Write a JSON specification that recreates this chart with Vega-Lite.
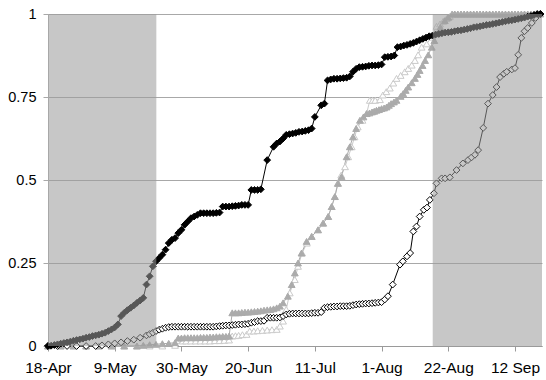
{
  "$schema": "https://vega.github.io/schema/vega-lite/v6.json",
  "width": 494,
  "height": 332,
  "autosize": {"type": "none"},
  "padding": {"left": 48, "top": 14, "right": 4, "bottom": 34},
  "config": {"view": {"stroke": null}, "font": "Liberation Sans"},
  "datasets": {
    "bands": [
      {"start": 0, "end": 34.1},
      {"start": 121.1, "end": 155.5}
    ],
    "curves": [
      {"series":"C","day":0,"value":0},{"series":"C","day":4,"value":0},{"series":"C","day":8,"value":0},{"series":"C","day":12,"value":0},{"series":"C","day":16,"value":0},{"series":"C","day":20,"value":0},{"series":"C","day":24,"value":0},{"series":"C","day":28,"value":0},{"series":"C","day":32,"value":0},{"series":"C","day":36,"value":0},{"series":"C","day":40,"value":0.002},{"series":"C","day":42.4,"value":0.015},{"series":"C","day":43.5,"value":0.015},{"series":"C","day":45,"value":0.015},{"series":"C","day":46.5,"value":0.015},{"series":"C","day":48,"value":0.015},{"series":"C","day":49.5,"value":0.015},{"series":"C","day":51,"value":0.015},{"series":"C","day":52.5,"value":0.016},{"series":"C","day":54,"value":0.016},{"series":"C","day":55.5,"value":0.017},{"series":"C","day":57,"value":0.018},{"series":"C","day":58,"value":0.03},{"series":"C","day":59,"value":0.031},{"series":"C","day":60,"value":0.032},{"series":"C","day":61.2,"value":0.034},{"series":"C","day":62.5,"value":0.035},{"series":"C","day":63.5,"value":0.045},{"series":"C","day":64.8,"value":0.045},{"series":"C","day":66,"value":0.046},{"series":"C","day":67.5,"value":0.047},{"series":"C","day":69,"value":0.048},{"series":"C","day":70.5,"value":0.049},{"series":"C","day":72,"value":0.05},{"series":"C","day":73,"value":0.06},{"series":"C","day":74,"value":0.075},{"series":"C","day":75,"value":0.11},{"series":"C","day":76.1,"value":0.16},{"series":"C","day":77.7,"value":0.2},{"series":"C","day":78.7,"value":0.24},{"series":"C","day":80,"value":0.28},{"series":"C","day":81.5,"value":0.31},{"series":"C","day":83,"value":0.33},{"series":"C","day":85,"value":0.35},{"series":"C","day":86.6,"value":0.37},{"series":"C","day":88.2,"value":0.39},{"series":"C","day":89.3,"value":0.42},{"series":"C","day":90.3,"value":0.45},{"series":"C","day":91.2,"value":0.49},{"series":"C","day":92.3,"value":0.515},{"series":"C","day":93.5,"value":0.54},{"series":"C","day":94.5,"value":0.57},{"series":"C","day":95.6,"value":0.6},{"series":"C","day":96.5,"value":0.63},{"series":"C","day":97.5,"value":0.66},{"series":"C","day":99,"value":0.68},{"series":"C","day":100.3,"value":0.7},{"series":"C","day":101.3,"value":0.74},{"series":"C","day":102.2,"value":0.74},{"series":"C","day":103,"value":0.74},{"series":"C","day":104.5,"value":0.742},{"series":"C","day":105.4,"value":0.756},{"series":"C","day":106.5,"value":0.766},{"series":"C","day":107.6,"value":0.777},{"series":"C","day":108.7,"value":0.792},{"series":"C","day":109.7,"value":0.806},{"series":"C","day":111,"value":0.815},{"series":"C","day":112.3,"value":0.826},{"series":"C","day":113.4,"value":0.836},{"series":"C","day":114.5,"value":0.846},{"series":"C","day":115.5,"value":0.86},{"series":"C","day":116.5,"value":0.877},{"series":"C","day":117.6,"value":0.9},{"series":"C","day":119.2,"value":0.91},{"series":"C","day":120.8,"value":0.93},{"series":"C","day":122.3,"value":0.963},{"series":"C","day":123.4,"value":0.97},{"series":"C","day":124.4,"value":0.978},{"series":"C","day":125.5,"value":0.986},{"series":"C","day":126.5,"value":0.993},{"series":"C","day":128.1,"value":1},{"series":"C","day":129,"value":1},{"series":"C","day":130,"value":1},{"series":"C","day":131,"value":1},{"series":"C","day":132,"value":1},{"series":"C","day":133,"value":1},{"series":"C","day":134,"value":1},{"series":"C","day":135,"value":1},{"series":"C","day":136,"value":1},{"series":"C","day":137,"value":1},{"series":"C","day":138,"value":1},{"series":"C","day":139,"value":1},{"series":"C","day":140,"value":1},{"series":"C","day":141,"value":1},{"series":"C","day":142,"value":1},{"series":"C","day":143,"value":1},{"series":"C","day":144,"value":1},{"series":"C","day":145,"value":1},{"series":"C","day":146,"value":1},{"series":"C","day":147,"value":1},{"series":"C","day":148,"value":1},{"series":"C","day":149,"value":1},{"series":"C","day":150,"value":1},{"series":"C","day":151,"value":1},{"series":"C","day":152,"value":1},{"series":"C","day":153,"value":1},{"series":"C","day":154,"value":1},

      {"series":"B","day":0,"value":0},{"series":"B","day":4,"value":0},{"series":"B","day":8,"value":0},{"series":"B","day":12,"value":0},{"series":"B","day":16,"value":0},{"series":"B","day":20,"value":0},{"series":"B","day":24,"value":0},{"series":"B","day":28,"value":0},{"series":"B","day":30,"value":0.002},{"series":"B","day":32,"value":0.004},{"series":"B","day":34,"value":0.005},{"series":"B","day":36,"value":0.007},{"series":"B","day":38,"value":0.008},{"series":"B","day":40,"value":0.01},{"series":"B","day":41,"value":0.024},{"series":"B","day":42,"value":0.024},{"series":"B","day":43,"value":0.025},{"series":"B","day":44,"value":0.025},{"series":"B","day":45,"value":0.025},{"series":"B","day":46,"value":0.025},{"series":"B","day":47,"value":0.025},{"series":"B","day":48,"value":0.026},{"series":"B","day":49,"value":0.026},{"series":"B","day":50,"value":0.026},{"series":"B","day":51,"value":0.027},{"series":"B","day":52,"value":0.027},{"series":"B","day":53,"value":0.028},{"series":"B","day":54,"value":0.028},{"series":"B","day":55,"value":0.029},{"series":"B","day":56,"value":0.029},{"series":"B","day":57,"value":0.03},{"series":"B","day":58,"value":0.1},{"series":"B","day":59,"value":0.1},{"series":"B","day":60,"value":0.1},{"series":"B","day":61,"value":0.101},{"series":"B","day":62,"value":0.102},{"series":"B","day":63,"value":0.102},{"series":"B","day":64,"value":0.103},{"series":"B","day":65,"value":0.104},{"series":"B","day":66,"value":0.105},{"series":"B","day":67,"value":0.106},{"series":"B","day":68,"value":0.108},{"series":"B","day":69,"value":0.109},{"series":"B","day":70,"value":0.11},{"series":"B","day":71,"value":0.112},{"series":"B","day":72,"value":0.115},{"series":"B","day":73,"value":0.12},{"series":"B","day":74,"value":0.13},{"series":"B","day":75.5,"value":0.15},{"series":"B","day":76.7,"value":0.185},{"series":"B","day":77.7,"value":0.22},{"series":"B","day":78.7,"value":0.25},{"series":"B","day":79.8,"value":0.28},{"series":"B","day":81.4,"value":0.315},{"series":"B","day":83,"value":0.33},{"series":"B","day":85,"value":0.35},{"series":"B","day":86.6,"value":0.37},{"series":"B","day":88.2,"value":0.39},{"series":"B","day":89.3,"value":0.42},{"series":"B","day":90.3,"value":0.45},{"series":"B","day":91.3,"value":0.49},{"series":"B","day":92.4,"value":0.51},{"series":"B","day":94,"value":0.57},{"series":"B","day":95,"value":0.6},{"series":"B","day":96,"value":0.63},{"series":"B","day":97,"value":0.655},{"series":"B","day":98.2,"value":0.68},{"series":"B","day":99.3,"value":0.69},{"series":"B","day":100.3,"value":0.7},{"series":"B","day":101.2,"value":0.702},{"series":"B","day":102,"value":0.705},{"series":"B","day":102.7,"value":0.707},{"series":"B","day":103.4,"value":0.71},{"series":"B","day":104.2,"value":0.712},{"series":"B","day":105,"value":0.715},{"series":"B","day":105.8,"value":0.717},{"series":"B","day":106.6,"value":0.72},{"series":"B","day":107.3,"value":0.725},{"series":"B","day":108,"value":0.73},{"series":"B","day":108.9,"value":0.735},{"series":"B","day":109.7,"value":0.74},{"series":"B","day":111,"value":0.752},{"series":"B","day":111.8,"value":0.76},{"series":"B","day":112.6,"value":0.77},{"series":"B","day":113.4,"value":0.78},{"series":"B","day":114.5,"value":0.793},{"series":"B","day":115.5,"value":0.806},{"series":"B","day":116.3,"value":0.818},{"series":"B","day":117,"value":0.83},{"series":"B","day":117.9,"value":0.845},{"series":"B","day":118.7,"value":0.86},{"series":"B","day":119.7,"value":0.877},{"series":"B","day":120.8,"value":0.9},{"series":"B","day":121.6,"value":0.92},{"series":"B","day":122.4,"value":0.94},{"series":"B","day":123.5,"value":0.96},{"series":"B","day":124.9,"value":0.98},{"series":"B","day":126,"value":0.99},{"series":"B","day":127.2,"value":1},{"series":"B","day":128,"value":1},{"series":"B","day":129,"value":1},{"series":"B","day":130,"value":1},{"series":"B","day":131,"value":1},{"series":"B","day":132,"value":1},{"series":"B","day":133,"value":1},{"series":"B","day":134,"value":1},{"series":"B","day":135,"value":1},{"series":"B","day":136,"value":1},{"series":"B","day":137,"value":1},{"series":"B","day":138,"value":1},{"series":"B","day":139,"value":1},{"series":"B","day":140,"value":1},{"series":"B","day":141,"value":1},{"series":"B","day":142,"value":1},{"series":"B","day":143,"value":1},{"series":"B","day":144,"value":1},{"series":"B","day":145,"value":1},{"series":"B","day":146,"value":1},{"series":"B","day":147,"value":1},{"series":"B","day":148,"value":1},{"series":"B","day":149,"value":1},{"series":"B","day":150,"value":1},{"series":"B","day":151,"value":1},{"series":"B","day":152,"value":1},{"series":"B","day":153,"value":1},{"series":"B","day":154,"value":1},{"series":"B","day":155,"value":1},

      {"series":"D","day":0,"value":0},{"series":"D","day":3,"value":0},{"series":"D","day":6,"value":0},{"series":"D","day":9,"value":0},{"series":"D","day":12,"value":0},{"series":"D","day":15,"value":0},{"series":"D","day":17,"value":0.002},{"series":"D","day":19,"value":0.005},{"series":"D","day":21,"value":0.008},{"series":"D","day":23,"value":0.011},{"series":"D","day":25,"value":0.015},{"series":"D","day":27,"value":0.019},{"series":"D","day":29,"value":0.025},{"series":"D","day":31,"value":0.032},{"series":"D","day":32,"value":0.036},{"series":"D","day":33,"value":0.04},{"series":"D","day":34,"value":0.045},{"series":"D","day":35,"value":0.049},{"series":"D","day":36,"value":0.052},{"series":"D","day":37,"value":0.055},{"series":"D","day":38,"value":0.057},{"series":"D","day":39,"value":0.058},{"series":"D","day":40,"value":0.058},{"series":"D","day":41,"value":0.058},{"series":"D","day":42,"value":0.058},{"series":"D","day":43,"value":0.058},{"series":"D","day":44,"value":0.058},{"series":"D","day":45,"value":0.058},{"series":"D","day":46,"value":0.058},{"series":"D","day":47,"value":0.058},{"series":"D","day":48,"value":0.058},{"series":"D","day":49,"value":0.058},{"series":"D","day":50,"value":0.058},{"series":"D","day":51,"value":0.058},{"series":"D","day":52,"value":0.058},{"series":"D","day":53,"value":0.059},{"series":"D","day":54,"value":0.06},{"series":"D","day":55,"value":0.061},{"series":"D","day":56,"value":0.062},{"series":"D","day":57,"value":0.062},{"series":"D","day":58,"value":0.063},{"series":"D","day":59,"value":0.064},{"series":"D","day":60,"value":0.065},{"series":"D","day":61,"value":0.065},{"series":"D","day":62,"value":0.066},{"series":"D","day":63,"value":0.067},{"series":"D","day":64,"value":0.07},{"series":"D","day":65,"value":0.072},{"series":"D","day":66,"value":0.075},{"series":"D","day":67,"value":0.075},{"series":"D","day":68,"value":0.076},{"series":"D","day":69,"value":0.085},{"series":"D","day":70,"value":0.085},{"series":"D","day":71,"value":0.085},{"series":"D","day":72,"value":0.085},{"series":"D","day":73,"value":0.086},{"series":"D","day":74,"value":0.09},{"series":"D","day":75,"value":0.095},{"series":"D","day":76,"value":0.097},{"series":"D","day":77,"value":0.098},{"series":"D","day":78,"value":0.098},{"series":"D","day":79,"value":0.098},{"series":"D","day":80,"value":0.098},{"series":"D","day":81,"value":0.098},{"series":"D","day":82,"value":0.098},{"series":"D","day":83,"value":0.099},{"series":"D","day":84,"value":0.1},{"series":"D","day":85,"value":0.1},{"series":"D","day":86,"value":0.102},{"series":"D","day":87,"value":0.115},{"series":"D","day":88,"value":0.117},{"series":"D","day":89,"value":0.118},{"series":"D","day":90,"value":0.119},{"series":"D","day":91,"value":0.119},{"series":"D","day":92,"value":0.12},{"series":"D","day":93,"value":0.12},{"series":"D","day":94,"value":0.12},{"series":"D","day":95,"value":0.121},{"series":"D","day":96,"value":0.123},{"series":"D","day":97,"value":0.125},{"series":"D","day":98,"value":0.126},{"series":"D","day":99,"value":0.127},{"series":"D","day":100,"value":0.128},{"series":"D","day":101,"value":0.128},{"series":"D","day":102,"value":0.129},{"series":"D","day":103,"value":0.13},{"series":"D","day":104,"value":0.131},{"series":"D","day":105,"value":0.132},{"series":"D","day":106,"value":0.14},{"series":"D","day":107,"value":0.15},{"series":"D","day":108.5,"value":0.185},{"series":"D","day":110.8,"value":0.245},{"series":"D","day":111.7,"value":0.255},{"series":"D","day":113,"value":0.27},{"series":"D","day":114,"value":0.28},{"series":"D","day":115,"value":0.345},{"series":"D","day":116,"value":0.36},{"series":"D","day":117,"value":0.39},{"series":"D","day":118.3,"value":0.41},{"series":"D","day":119.3,"value":0.417},{"series":"D","day":120.2,"value":0.44},{"series":"D","day":121.5,"value":0.46},{"series":"D","day":122.3,"value":0.49},{"series":"D","day":123.9,"value":0.505},{"series":"D","day":125,"value":0.505},{"series":"D","day":126.5,"value":0.508},{"series":"D","day":128.6,"value":0.53},{"series":"D","day":130.6,"value":0.55},{"series":"D","day":132.2,"value":0.56},{"series":"D","day":133.3,"value":0.568},{"series":"D","day":134.4,"value":0.576},{"series":"D","day":135.4,"value":0.59},{"series":"D","day":137,"value":0.657},{"series":"D","day":138.5,"value":0.73},{"series":"D","day":140,"value":0.756},{"series":"D","day":141.2,"value":0.78},{"series":"D","day":142.3,"value":0.81},{"series":"D","day":143.5,"value":0.82},{"series":"D","day":144.4,"value":0.826},{"series":"D","day":146,"value":0.833},{"series":"D","day":147,"value":0.837},{"series":"D","day":148,"value":0.877},{"series":"D","day":149,"value":0.928},{"series":"D","day":150,"value":0.948},{"series":"D","day":151,"value":0.958},{"series":"D","day":152.3,"value":0.973},{"series":"D","day":153.5,"value":0.988},{"series":"D","day":155,"value":1},

      {"series":"A","day":0,"value":0},{"series":"A","day":1,"value":0.001},{"series":"A","day":2,"value":0.003},{"series":"A","day":3,"value":0.005},{"series":"A","day":4,"value":0.007},{"series":"A","day":5,"value":0.009},{"series":"A","day":6,"value":0.011},{"series":"A","day":7,"value":0.013},{"series":"A","day":8,"value":0.016},{"series":"A","day":9,"value":0.018},{"series":"A","day":10,"value":0.02},{"series":"A","day":11,"value":0.022},{"series":"A","day":12,"value":0.025},{"series":"A","day":13,"value":0.027},{"series":"A","day":14,"value":0.03},{"series":"A","day":15,"value":0.032},{"series":"A","day":16,"value":0.034},{"series":"A","day":17,"value":0.037},{"series":"A","day":18,"value":0.04},{"series":"A","day":19,"value":0.045},{"series":"A","day":20,"value":0.05},{"series":"A","day":21,"value":0.056},{"series":"A","day":22,"value":0.065},{"series":"A","day":23,"value":0.09},{"series":"A","day":24,"value":0.1},{"series":"A","day":25,"value":0.108},{"series":"A","day":26,"value":0.115},{"series":"A","day":27,"value":0.122},{"series":"A","day":28,"value":0.13},{"series":"A","day":29,"value":0.137},{"series":"A","day":30,"value":0.145},{"series":"A","day":31,"value":0.185},{"series":"A","day":32,"value":0.21},{"series":"A","day":33,"value":0.24},{"series":"A","day":34,"value":0.255},{"series":"A","day":35,"value":0.265},{"series":"A","day":36,"value":0.275},{"series":"A","day":37,"value":0.29},{"series":"A","day":38,"value":0.31},{"series":"A","day":39,"value":0.32},{"series":"A","day":40,"value":0.325},{"series":"A","day":41,"value":0.34},{"series":"A","day":42,"value":0.35},{"series":"A","day":43,"value":0.365},{"series":"A","day":44,"value":0.375},{"series":"A","day":45,"value":0.385},{"series":"A","day":46,"value":0.39},{"series":"A","day":47,"value":0.395},{"series":"A","day":48,"value":0.4},{"series":"A","day":49,"value":0.4},{"series":"A","day":50,"value":0.4},{"series":"A","day":51,"value":0.4},{"series":"A","day":52,"value":0.4},{"series":"A","day":53,"value":0.401},{"series":"A","day":54,"value":0.402},{"series":"A","day":55,"value":0.42},{"series":"A","day":56,"value":0.42},{"series":"A","day":57,"value":0.42},{"series":"A","day":58,"value":0.421},{"series":"A","day":59,"value":0.422},{"series":"A","day":60,"value":0.423},{"series":"A","day":61,"value":0.425},{"series":"A","day":62,"value":0.425},{"series":"A","day":63,"value":0.425},{"series":"A","day":64,"value":0.47},{"series":"A","day":65,"value":0.47},{"series":"A","day":66,"value":0.47},{"series":"A","day":67,"value":0.472},{"series":"A","day":69,"value":0.56},{"series":"A","day":71,"value":0.6},{"series":"A","day":72,"value":0.61},{"series":"A","day":73,"value":0.616},{"series":"A","day":74,"value":0.625},{"series":"A","day":75,"value":0.636},{"series":"A","day":76,"value":0.638},{"series":"A","day":77,"value":0.64},{"series":"A","day":78,"value":0.642},{"series":"A","day":79,"value":0.645},{"series":"A","day":80,"value":0.646},{"series":"A","day":81,"value":0.648},{"series":"A","day":82,"value":0.65},{"series":"A","day":83,"value":0.655},{"series":"A","day":84,"value":0.69},{"series":"A","day":86,"value":0.725},{"series":"A","day":87,"value":0.73},{"series":"A","day":88,"value":0.8},{"series":"A","day":89,"value":0.803},{"series":"A","day":90,"value":0.805},{"series":"A","day":91,"value":0.805},{"series":"A","day":92,"value":0.806},{"series":"A","day":93,"value":0.807},{"series":"A","day":94,"value":0.808},{"series":"A","day":95,"value":0.812},{"series":"A","day":96,"value":0.826},{"series":"A","day":97,"value":0.835},{"series":"A","day":98,"value":0.84},{"series":"A","day":99,"value":0.841},{"series":"A","day":100,"value":0.842},{"series":"A","day":101,"value":0.844},{"series":"A","day":102,"value":0.845},{"series":"A","day":103,"value":0.845},{"series":"A","day":104,"value":0.846},{"series":"A","day":105,"value":0.848},{"series":"A","day":106,"value":0.87},{"series":"A","day":107,"value":0.871},{"series":"A","day":108,"value":0.872},{"series":"A","day":109,"value":0.875},{"series":"A","day":110,"value":0.9},{"series":"A","day":111,"value":0.902},{"series":"A","day":112,"value":0.905},{"series":"A","day":113,"value":0.907},{"series":"A","day":114,"value":0.91},{"series":"A","day":115,"value":0.913},{"series":"A","day":116,"value":0.917},{"series":"A","day":117,"value":0.921},{"series":"A","day":118,"value":0.925},{"series":"A","day":119,"value":0.929},{"series":"A","day":120,"value":0.933},{"series":"A","day":121,"value":0.935},{"series":"A","day":122,"value":0.938},{"series":"A","day":123,"value":0.94},{"series":"A","day":124,"value":0.942},{"series":"A","day":125,"value":0.944},{"series":"A","day":126,"value":0.945},{"series":"A","day":127,"value":0.946},{"series":"A","day":128,"value":0.948},{"series":"A","day":129,"value":0.95},{"series":"A","day":130,"value":0.951},{"series":"A","day":131,"value":0.953},{"series":"A","day":132,"value":0.955},{"series":"A","day":133,"value":0.957},{"series":"A","day":134,"value":0.96},{"series":"A","day":135,"value":0.961},{"series":"A","day":136,"value":0.963},{"series":"A","day":137,"value":0.965},{"series":"A","day":138,"value":0.967},{"series":"A","day":139,"value":0.968},{"series":"A","day":140,"value":0.97},{"series":"A","day":141,"value":0.972},{"series":"A","day":142,"value":0.974},{"series":"A","day":143,"value":0.976},{"series":"A","day":144,"value":0.978},{"series":"A","day":145,"value":0.98},{"series":"A","day":146,"value":0.981},{"series":"A","day":147,"value":0.983},{"series":"A","day":148,"value":0.985},{"series":"A","day":149,"value":0.987},{"series":"A","day":150,"value":0.989},{"series":"A","day":151,"value":0.992},{"series":"A","day":152,"value":0.994},{"series":"A","day":153,"value":0.997},{"series":"A","day":154,"value":1},{"series":"A","day":155,"value":1}
    ]
  },
  "encoding": {
    "x": {
      "field": "day", "type": "quantitative",
      "scale": {"domain": [0, 155.5], "nice": false, "zero": false},
      "axis": {
        "title": null, "grid": false,
        "values": [0, 21, 42, 63, 84, 105, 126, 147],
        "labelExpr": "['18-Apr','9-May','30-May','20-Jun','11-Jul','1-Aug','22-Aug','12 Sep'][round(datum.value/21)]",
        "domainColor": "#9a9a9a", "tickColor": "#9a9a9a", "tickSize": 5,
        "labelFontSize": 15.5, "labelColor": "#000000", "labelPadding": 9,
        "labelFlush": false, "labelOverlap": false
      }
    },
    "y": {
      "field": "value", "type": "quantitative",
      "scale": {"domain": [0, 1], "nice": false},
      "axis": {
        "title": null, "values": [0, 0.25, 0.5, 0.75, 1], "format": ".2~f",
        "grid": true, "gridColor": "#a8a8a8", "gridWidth": 1,
        "domainColor": "#b8b8b8", "tickColor": "#a8a8a8", "tickSize": 5,
        "labelFontSize": 14.5, "labelColor": "#000000", "labelPadding": 7
      }
    }
  },
  "layer": [
    {
      "data": {"name": "curves"},
      "mark": {"type": "line", "strokeWidth": 1},
      "encoding": {
        "color": {"field": "series", "type": "nominal", "legend": null,
          "scale": {"domain": ["C", "B", "D", "A"], "range": ["#cacaca", "#ababab", "#000000", "#000000"]}},
        "detail": {"field": "series"}
      }
    },
    {
      "data": {"name": "curves"},
      "mark": {"type": "point", "size": 46, "strokeWidth": 1, "opacity": 1, "fillOpacity": 1},
      "encoding": {
        "shape": {"field": "series", "type": "nominal", "legend": null,
          "scale": {"domain": ["C", "B", "D", "A"], "range": ["triangle-up", "triangle-up", "diamond", "diamond"]}},
        "stroke": {"field": "series", "type": "nominal", "legend": null,
          "scale": {"domain": ["C", "B", "D", "A"], "range": ["#cacaca", "#ababab", "#000000", "#000000"]}},
        "fill": {"field": "series", "type": "nominal", "legend": null,
          "scale": {"domain": ["C", "B", "D", "A"], "range": ["#ffffff", "#ababab", "#ffffff", "#000000"]}}
      }
    },
    {
      "data": {"name": "bands"},
      "mark": {"type": "rect", "color": "#9b9b9b", "opacity": 0.56},
      "encoding": {
        "x": {"field": "start", "type": "quantitative"},
        "x2": {"field": "end"},
        "y": null
      }
    }
  ]
}
